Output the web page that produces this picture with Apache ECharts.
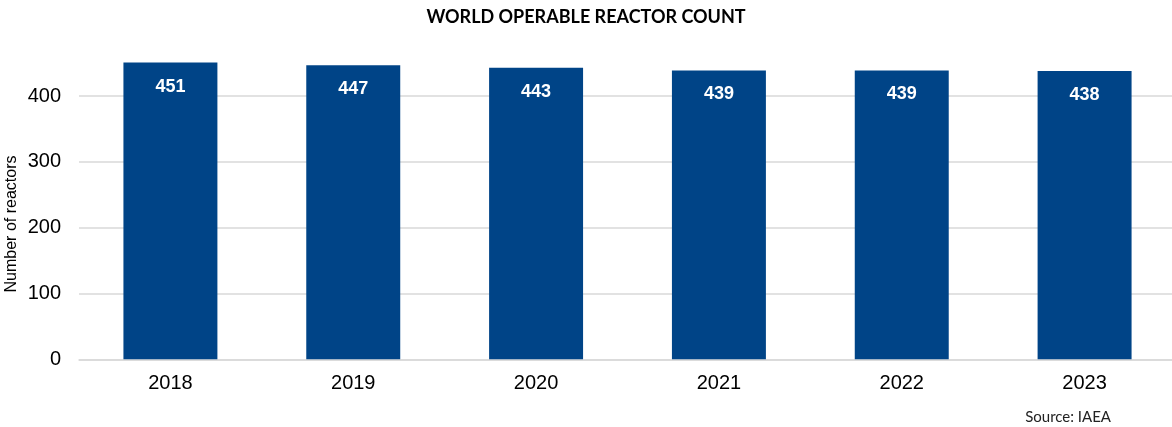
<!DOCTYPE html>
<html>
<head>
<meta charset="utf-8">
<title>World Operable Reactor Count</title>
<script src="https://cdn.jsdelivr.net/npm/echarts@6/dist/echarts.min.js"></script>
<style>
  html, body { margin: 0; padding: 0; background: #ffffff; }
  #chart { width: 1172px; height: 427px; }
</style>
</head>
<body>
<div id="chart"></div>
<script>
// Operable nuclear reactors worldwide, by year
const years = ['2018', '2019', '2020', '2021', '2022', '2023'];
const reactorCounts = [451, 447, 443, 439, 439, 438];
const yTicks = [0, 100, 200, 300, 400];

const titleText = 'WORLD OPERABLE REACTOR COUNT';
const yAxisTitle = 'Number of reactors';
const sourceText = 'Source: IAEA';

const barColor = '#004487';
const gridColor = '#d9d9d9';

const chart = echarts.init(document.getElementById('chart'), null, { renderer: 'canvas' });

chart.setOption({
  animation: false,
  backgroundColor: '#ffffff',
  title: {
    text: titleText,
    left: 'center',
    top: 3,
    textStyle: { fontFamily: 'Lato', fontWeight: 'bold', fontSize: 18, color: '#000000' }
  },
  graphic: [
    {
      type: 'text',
      x: 12,
      y: 224,
      rotation: Math.PI / 2,
      style: {
        text: yAxisTitle,
        fontFamily: 'Liberation Sans',
        fontSize: 16,
        fill: '#000000',
        align: 'center',
        verticalAlign: 'middle'
      }
    },
    {
      type: 'text',
      right: 61,
      top: 410,
      style: {
        text: sourceText,
        fontFamily: 'Lato',
        fontSize: 15,
        fill: '#222222'
      }
    }
  ],
  // the plot runs a few pixels past the right edge of the canvas
  grid: {
    left: 79, width: 1097, top: 30.3, bottom: 67.7,
    containLabel: false,
    outerBoundsMode: 'none'
  },
  xAxis: {
    type: 'category',
    data: years,
    axisLine: { show: true, lineStyle: { color: gridColor, width: 1.5 } },
    axisTick: { show: false },
    axisLabel: { fontFamily: 'Liberation Sans', fontSize: 20, color: '#000000', margin: 14 }
  },
  yAxis: {
    type: 'value',
    min: yTicks[0],
    max: 500,
    interval: 100,
    axisLine: { show: false },
    axisTick: { show: false },
    axisLabel: {
      fontFamily: 'Liberation Sans', fontSize: 20, color: '#000000', margin: 18,
      showMaxLabel: false,
      formatter: v => (yTicks.indexOf(v) >= 0 ? String(v) : '')
    },
    splitLine: { show: true, showMaxLine: false, lineStyle: { color: gridColor, width: 1.5 } }
  },
  series: [{
    type: 'bar',
    data: reactorCounts,
    barWidth: '51.4%',
    itemStyle: { color: barColor },
    label: {
      show: true,
      position: 'insideTop',
      distance: 15,
      fontFamily: 'Liberation Sans',
      fontWeight: 'bold',
      fontSize: 18,
      color: '#ffffff'
    }
  }]
});
</script>
</body>
</html>
